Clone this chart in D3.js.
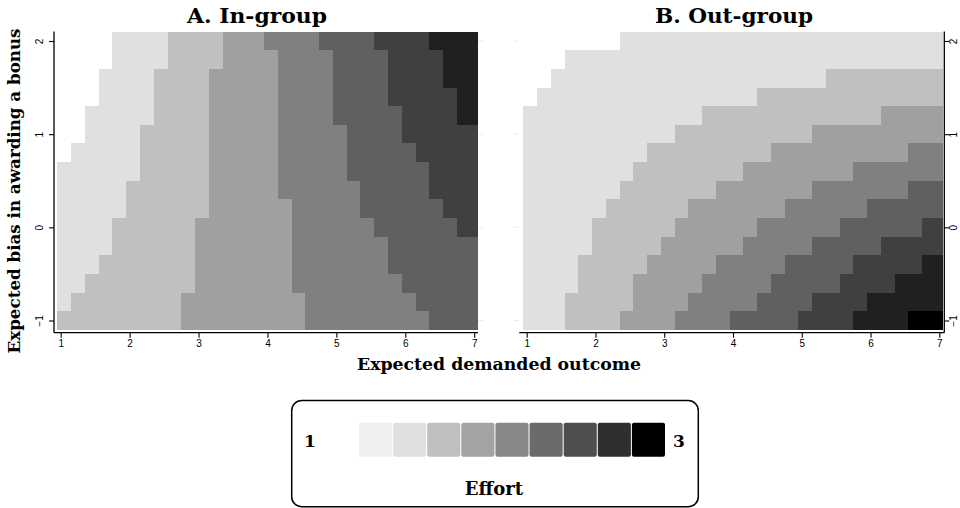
<!DOCTYPE html>
<html>
<head>
<meta charset="utf-8">
<script src="https://cdn.jsdelivr.net/npm/d3@7"></script>
<style>
  body { margin: 0; background: #fff; }
  svg { display: block; }
  .tick text { font-family: "Liberation Sans", Arial, sans-serif; font-size: 10px; fill: #000; }
  .tick line { stroke: #000; stroke-width: 1.1px; }
  .serif { font-family: "DejaVu Serif", "Liberation Serif", serif; font-weight: bold; fill: #000; }
</style>
</head>
<body>
<svg id="chart" width="960" height="508"></svg>
<script>
// Effort contour grid: columns are expected demanded outcome, rows are expected bias
// (top row = bias 2, bottom row = bias -1). Each digit is the effort band 0..8.
const demandEdges = [0.95, 1.15, 1.35, 1.55, 1.75, 1.95, 2.15, 2.35, 2.55, 2.75,
                     2.95, 3.15, 3.35, 3.55, 3.75, 3.95, 4.15, 4.35, 4.55, 4.75,
                     4.95, 5.15, 5.35, 5.55, 5.75, 5.95, 6.15, 6.35, 6.55, 6.75, 7.05];
const biasEdges = [2.1, 1.9, 1.7, 1.5, 1.3, 1.1, 0.9, 0.7, 0.5, 0.3, 0.1,
                   -0.1, -0.3, -0.5, -0.7, -0.9, -1.1];

const inGroupLevels = [
  "000011112222333444455556666777",
  "000011112222333344445555666677",
  "000111122223333344445555666677",
  "000111122223333344445555666667",
  "001111122223333344445555566667",
  "001111222223333344444555566666",
  "011111222223333344444555556666",
  "111111222223333344444555555666",
  "111112222223333344444455555666",
  "111112222223333334444455555566",
  "111122222233333334444445555556",
  "111122222233333334444444555555",
  "111222222233333334444444555555",
  "112222222233333334444444455555",
  "122222222333333333444444445555",
  "222222222333333333444444444555"
];

const outGroupLevels = [
  "000000011111111111111111111111",
  "000111111111111111111111111111",
  "001111111111111111111122222222",
  "011111111111111112222222222222",
  "111111111111122222222222223333",
  "111111111112222222222333333333",
  "111111111222222222333333333344",
  "111111112222222233333333444444",
  "111111122222223333333444444455",
  "111111222222333333344444455555",
  "111112222223333334444445555556",
  "111112222233333344444555556666",
  "111122222333334444455555666667",
  "111122223333344444555556666777",
  "111222223333444445555666677777",
  "111222233334444555556666777788"
];

const demandTicks = [1, 2, 3, 4, 5, 6, 7];
const biasTicks = [-1, 0, 1, 2];
const legendEnds = ["1", "3"];

// grey ramp for the plotted bands and for the key
const bandColors = ["#ffffff", "#e0e0e0", "#c0c0c0", "#a0a0a0", "#808080",
                    "#606060", "#404040", "#202020", "#000000"];
const keyColors = ["#efefef", "#e0e0e0", "#c0c0c0", "#a3a3a3", "#888888",
                   "#6b6b6b", "#4e4e4e", "#2f2f2f", "#000000"];

const svg = d3.select("#chart");

const yScale = d3.scaleLinear().domain([-1, 2]).range([320.5, 41]);
const frameTop = 31.5, frameBottom = 332.7;

const panels = [
  { title: "A. In-group", titleX: 257, titleLen: 140, rows: inGroupLevels,
    range: [60.7, 474.2], frame: [54, 478], side: "left" },
  { title: "B. Out-group", titleX: 734, titleLen: 158, rows: outGroupLevels,
    range: [526.7, 939.3], frame: [519.3, 944.3], side: "right" }
];

panels.forEach(p => {
  const x = d3.scaleLinear().domain([1, 7]).range(p.range);
  const g = svg.append("g");

  // cells, merged into horizontal runs of equal band
  p.rows.forEach((row, j) => {
    const levels = row.split("").map(Number);
    let start = 0;
    for (let i = 1; i <= levels.length; i++) {
      if (i === levels.length || levels[i] !== levels[start]) {
        const x0 = x(demandEdges[start]), x1 = x(demandEdges[i]);
        const y0 = yScale(biasEdges[j]), y1 = yScale(biasEdges[j + 1]);
        g.append("rect")
          .attr("x", x0).attr("y", y0)
          .attr("width", x1 - x0).attr("height", y1 - y0)
          .attr("fill", bandColors[levels[start]])
          .attr("shape-rendering", "crispEdges");
        start = i;
      }
    }
  });

  // faint ticks on the unused side
  const ghostX = p.side === "left" ? p.frame[1] : p.frame[0];
  const ghostDir = p.side === "left" ? 1 : -1;
  biasTicks.forEach(t => {
    g.append("line")
      .attr("x1", ghostX).attr("x2", ghostX + ghostDir * 5)
      .attr("y1", yScale(t)).attr("y2", yScale(t))
      .attr("stroke", "#e6ecec").attr("stroke-width", 1);
  });

  // x axis
  const xAxis = g.append("g")
    .attr("transform", `translate(0,${frameBottom})`)
    .call(d3.axisBottom(x).tickValues(demandTicks).tickFormat(d3.format("d"))
      .tickSize(5).tickPadding(2));
  xAxis.select(".domain").remove();
  g.append("line")
    .attr("x1", p.frame[0]).attr("x2", p.frame[1])
    .attr("y1", frameBottom).attr("y2", frameBottom)
    .attr("stroke", "#000").attr("stroke-width", 1.3);

  // y axis
  const ax = p.side === "left" ? p.frame[0] : p.frame[1];
  const yAxisGen = (p.side === "left" ? d3.axisLeft(yScale) : d3.axisRight(yScale))
    .tickValues(biasTicks).tickFormat(d3.format("d")).tickSize(5);
  const yAxis = g.append("g")
    .attr("transform", `translate(${ax},0)`)
    .call(yAxisGen);
  yAxis.select(".domain").remove();
  yAxis.selectAll(".tick text")
    .attr("transform", "rotate(-90)")
    .attr("x", 0).attr("dy", 0)
    .attr("y", p.side === "left" ? -11 : 13)
    .attr("text-anchor", "middle");
  g.append("line")
    .attr("x1", ax).attr("x2", ax)
    .attr("y1", frameTop).attr("y2", frameBottom)
    .attr("stroke", "#000").attr("stroke-width", 1.3);

  // panel title
  svg.append("text").attr("class", "serif")
    .attr("x", p.titleX).attr("y", 23)
    .attr("text-anchor", "middle")
    .attr("font-size", 20)
    .attr("textLength", p.titleLen).attr("lengthAdjust", "spacingAndGlyphs")
    .text(p.title);
});

// shared axis titles
svg.append("text").attr("class", "serif")
  .attr("x", 499).attr("y", 370)
  .attr("text-anchor", "middle").attr("font-size", 17)
  .attr("textLength", 284).attr("lengthAdjust", "spacingAndGlyphs")
  .text("Expected demanded outcome");

svg.append("text").attr("class", "serif")
  .attr("transform", "translate(20,191) rotate(-90)")
  .attr("text-anchor", "middle").attr("font-size", 16.8)
  .attr("textLength", 325).attr("lengthAdjust", "spacingAndGlyphs")
  .text("Expected bias in awarding a bonus");

// key
const key = svg.append("g");
key.append("rect")
  .attr("x", 291.7).attr("y", 400.5)
  .attr("width", 406.6).attr("height", 106.2)
  .attr("rx", 10).attr("ry", 10)
  .attr("fill", "#fff").attr("stroke", "#000").attr("stroke-width", 1.5);

const keyX = d3.scaleBand().domain(d3.range(keyColors.length)).range([359, 665]).paddingInner(0.03);
key.selectAll("rect.sw").data(keyColors).join("rect")
  .attr("class", "sw")
  .attr("x", (d, i) => keyX(i)).attr("y", 422.7)
  .attr("width", keyX.bandwidth()).attr("height", 34)
  .attr("rx", 2).attr("ry", 2)
  .attr("fill", d => d);

key.append("text").attr("class", "serif")
  .attr("x", 310).attr("y", 447).attr("text-anchor", "middle").attr("font-size", 17)
  .text(legendEnds[0]);
key.append("text").attr("class", "serif")
  .attr("x", 679).attr("y", 447).attr("text-anchor", "middle").attr("font-size", 17)
  .text(legendEnds[1]);
key.append("text").attr("class", "serif")
  .attr("x", 494).attr("y", 495).attr("text-anchor", "middle").attr("font-size", 18)
  .text("Effort");
</script>
</body>
</html>
